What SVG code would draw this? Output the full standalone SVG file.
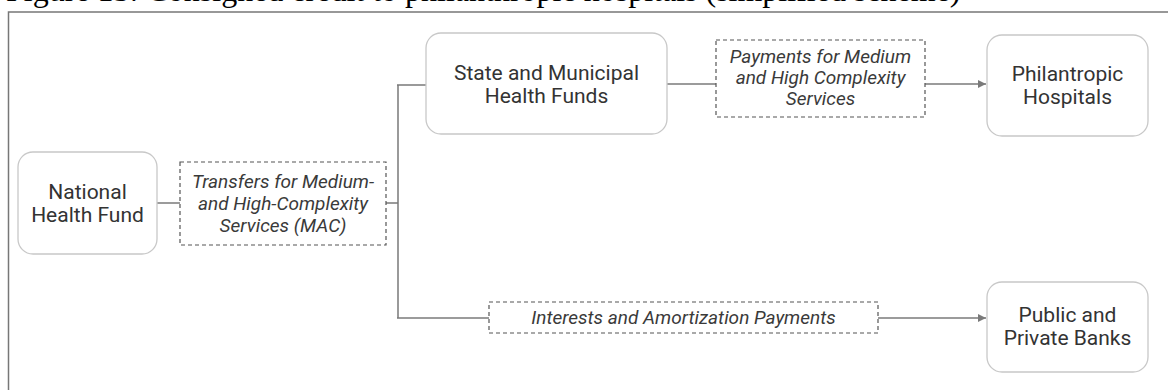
<svg xmlns="http://www.w3.org/2000/svg" width="1168" height="390" viewBox="0 0 1168 390">
<style>
.node rect{fill:#fff;stroke:#c8c8c8;stroke-width:1.3}
.node text{font-family:Roboto,"Liberation Sans",sans-serif;font-size:21px;fill:#333;text-anchor:middle}
.lbl rect{fill:#fff;stroke:#555;stroke-width:1.2;stroke-dasharray:4 3}
.lbl text{font-family:Roboto,"Liberation Sans",sans-serif;font-style:italic;font-size:19px;fill:#3a3a3a;text-anchor:middle}
.conn path{fill:none;stroke:#7a7a7a;stroke-width:1.5}
</style>
<defs>
<marker id="ah" viewBox="0 0 10 10" refX="10" refY="5" markerWidth="8" markerHeight="8" markerUnits="userSpaceOnUse" orient="auto">
<path d="M0,0 L10,5 L0,10 Z" fill="#7a7a7a"/>
</marker>
</defs>
<rect width="1168" height="390" fill="#fff"/>
<text x="6" y="1" font-family="'Liberation Serif',serif" font-size="32" fill="#000">Figure 15: Consigned credit to philanthropic hospitals (simplified scheme)</text>
<path d="M8.5,390 V12 H1168" fill="none" stroke="#777" stroke-width="1.5"/>
<g class="conn">
<path d="M157,203 H180"/>
<path d="M386,203 H398 M398,85 V318 M397,85 H426"/>
<path d="M397,318 H489"/>
<path d="M878,318 H986" marker-end="url(#ah)"/>
<path d="M667,84 H716"/>
<path d="M925,84 H986" marker-end="url(#ah)"/>
</g>
<g id="national" class="node">
<rect x="18" y="152" width="139" height="102" rx="15"/>
<text x="87.5" y="199">National</text>
<text x="87.5" y="222">Health Fund</text>
</g>
<g id="transfers" class="lbl">
<rect x="180" y="162" width="206" height="83"/>
<text x="283" y="188">Transfers for Medium-</text>
<text x="283" y="210">and High-Complexity</text>
<text x="283" y="232">Services (MAC)</text>
</g>
<g id="state" class="node">
<rect x="426" y="33" width="241" height="101" rx="15"/>
<text x="546.5" y="80">State and Municipal</text>
<text x="546.5" y="103">Health Funds</text>
</g>
<g id="payments" class="lbl">
<rect x="716" y="40" width="209" height="77"/>
<text x="820.5" y="63">Payments for Medium</text>
<text x="820.5" y="84">and High Complexity</text>
<text x="820.5" y="105">Services</text>
</g>
<g id="philanthropic" class="node">
<rect x="987" y="35" width="161" height="101" rx="15"/>
<text x="1067.5" y="81">Philantropic</text>
<text x="1067.5" y="104">Hospitals</text>
</g>
<g id="interests" class="lbl">
<rect x="489" y="302" width="389" height="31"/>
<text x="683.5" y="324">Interests and Amortization Payments</text>
</g>
<g id="banks" class="node">
<rect x="987" y="282" width="161" height="90" rx="15"/>
<text x="1067.5" y="322">Public and</text>
<text x="1067.5" y="345">Private Banks</text>
</g>
</svg>
